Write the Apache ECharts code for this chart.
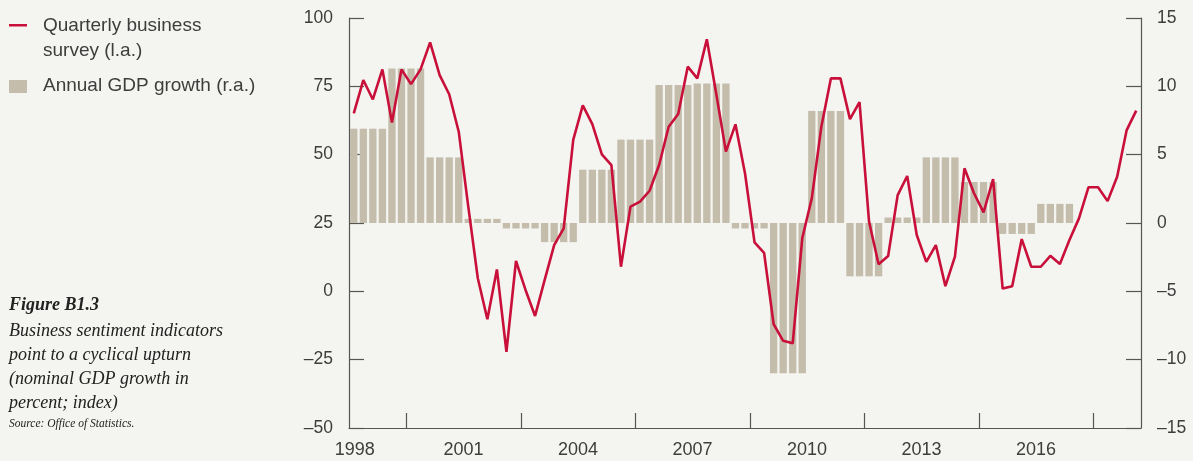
<!DOCTYPE html>
<html>
<head>
<meta charset="utf-8">
<script src="https://cdn.jsdelivr.net/npm/echarts@6/dist/echarts.min.js"></script>
<style>
    html, body { margin: 0; padding: 0; background: #f4f4f0; }
    #chart { width: 1193px; height: 461px; }
</style>
</head>
<body>
<div id="chart"></div>
<script>
    // quarters 1998Q1 .. 2018Q3
    var startYear = 1998;
    var quarterCount = 83;

    // quarterly business survey (left axis, index)
    var surveyIndex = [
        65.1, 77.3, 70.2, 81.2, 61.8, 81.2, 75.8, 81.2, 91.1, 79.1, 72.1, 58.4,
        31.0, 4.8, -10.2, 8.0, -22.1, 11.1, 0.5, -9.0, 4.1, 16.9, 23.0, 55.4,
        68.0, 61.2, 50.1, 46.2, 9.0, 31.0, 32.8, 36.8, 46.2, 60.2, 64.9, 82.2,
        77.9, 92.2, 72.0, 51.1, 61.1, 43.2, 17.9, 14.1, -12.0, -18.1, -19.0, 19.4,
        34.0, 60.2, 77.9, 77.9, 63.0, 69.2, 25.5, 9.9, 12.9, 35.2, 42.2, 20.6,
        10.8, 16.9, 1.9, 12.7, 45.0, 35.9, 28.9, 41.1, 1.0, 1.9, 19.1, 9.0,
        9.0, 13.0, 10.0, 18.8, 26.7, 38.1, 38.1, 33.0, 41.9, 59.0, 66.1
    ];

    // annual GDP growth (right axis, percent), one value per year 1998..2016
    var gdpYears = [1998, 1999, 2000, 2001, 2002, 2003, 2004, 2005, 2006, 2007,
                    2008, 2009, 2010, 2011, 2012, 2013, 2014, 2015, 2016];
    var gdpGrowth = [6.9, 11.3, 4.8, 0.3, -0.4, -1.4, 3.9, 6.1, 10.1, 10.2,
                     -0.4, -11.0, 8.2, -3.9, 0.4, 4.8, 3.0, -0.8, 1.4];

    // axis ticks / labels
    var yearLabels = [1998, 2001, 2004, 2007, 2010, 2013, 2016];

    var lineData = [];
    for (var i = 0; i < surveyIndex.length; i++) {
        lineData.push([i + 0.5, surveyIndex[i]]);
    }
    var barData = [];
    for (var k = 0; k < gdpYears.length; k++) {
        for (var q = 0; q < 4; q++) {
            var idx = (gdpYears[k] - startYear) * 4 + q;
            barData.push([idx + 0.5, gdpGrowth[k]]);
        }
    }

    // label positions (quarter index at year start), first one nudged inward
    var labelPos = yearLabels.map(function (y, j) {
        var p = (y - startYear) * 4;
        return j === 0 ? 0.6 : p;
    });
    var tickPos = yearLabels.map(function (y) { return (y - startYear) * 4 + 6; });

    function dash(v) { return String(v).replace('-', '\u2013'); }

    var axisColor = '#555';
    var textColor = '#3d3d3d';
    var font = '"Liberation Sans", Arial, sans-serif';
    var serif = '"Liberation Serif", "DejaVu Serif", serif';

    var myChart = echarts.init(document.getElementById('chart'));
    var option = {
        backgroundColor: '#f4f4f0',
        animation: false,
        grid: { left: 349, right: 52, top: 18, bottom: 33 },
        xAxis: {
            type: 'value',
            min: 0,
            max: quarterCount,
            splitLine: { show: false },
            axisLine: { show: true, onZero: false, lineStyle: { color: axisColor, width: 1.2 } },
            axisTick: {
                show: true, inside: true, length: 15,
                customValues: tickPos,
                lineStyle: { color: axisColor, width: 1.2 }
            },
            axisLabel: {
                customValues: labelPos,
                color: textColor, fontSize: 18, fontFamily: font, margin: 13,
                formatter: function (v) { return String(startYear + Math.round(v / 4)); }
            }
        },
        yAxis: [
            {
                type: 'value', min: -50, max: 100, interval: 25,
                position: 'left',
                splitLine: { show: false },
                axisLine: { show: true, lineStyle: { color: axisColor, width: 1.2 } },
                axisTick: { show: true, inside: true, length: 15, lineStyle: { color: axisColor, width: 1.2 } },
                axisLabel: {
                    color: textColor, fontSize: 17.5, fontFamily: font, margin: 16,
                    formatter: function (v) { return dash(v); }
                }
            },
            {
                type: 'value', min: -15, max: 15, interval: 5,
                position: 'right',
                splitLine: { show: false },
                axisLine: { show: true, lineStyle: { color: axisColor, width: 1.2 } },
                axisTick: { show: true, inside: true, length: 15, lineStyle: { color: axisColor, width: 1.2 } },
                axisLabel: {
                    color: textColor, fontSize: 17.5, fontFamily: font, margin: 16,
                    formatter: function (v) { return dash(v); }
                }
            }
        ],
        series: [
            {
                name: 'Annual GDP growth (r.a.)',
                type: 'bar',
                yAxisIndex: 1,
                data: barData,
                barWidth: 7.3,
                itemStyle: { color: '#c4bdab' },
                z: 2
            },
            {
                name: 'Quarterly business survey (l.a.)',
                type: 'line',
                yAxisIndex: 0,
                data: lineData,
                symbol: 'none',
                lineStyle: { color: '#c8103a', width: 2.6 },
                z: 3
            }
        ],
        graphic: [
            // legend
            { type: 'rect', left: 9, top: 24, shape: { width: 18, height: 2.5 }, style: { fill: '#c8103a' } },
            { type: 'text', left: 43, top: 13, style: { text: 'Quarterly business\nsurvey (l.a.)', fill: textColor, font: '19px ' + font, lineHeight: 25 } },
            { type: 'rect', left: 9, top: 80, shape: { width: 18, height: 13 }, style: { fill: '#c4bdab' } },
            { type: 'text', left: 43, top: 76, style: { text: 'Annual GDP growth (r.a.)', fill: textColor, font: '19px ' + font } },
            // caption
            { type: 'text', left: 9, top: 296, style: { text: 'Figure B1.3', fill: '#222', font: 'italic bold 18px ' + serif } },
            { type: 'text', left: 9, top: 319, style: {
                text: 'Business sentiment indicators\npoint to a cyclical upturn\n(nominal GDP growth in\npercent; index)',
                fill: '#222', font: 'italic 18px ' + serif, lineHeight: 24 } },
            { type: 'text', left: 9, top: 418, style: { text: 'Source: Office of Statistics.', fill: '#222', font: 'italic 11.5px ' + serif } }
        ]
    };
    myChart.setOption(option);
</script>
</body>
</html>
